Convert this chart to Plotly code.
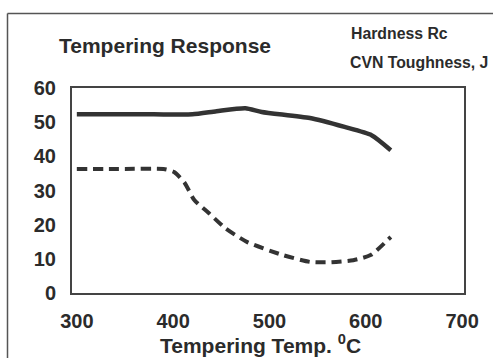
import plotly.graph_objects as go

# Data
hard_temp = [300, 340, 380, 420, 445, 475, 492, 542, 578, 606, 626]
hard_val = [52.3, 52.3, 52.3, 52.3, 53.2, 54.1, 53.0, 51.2, 48.6, 46.2, 41.8]

tough_temp = [300, 350, 390, 401, 412, 422, 437, 454, 477, 514, 542, 563, 587, 605, 626]
tough_val = [36.3, 36.3, 36.3, 35.4, 32.2, 27.2, 23.4, 19.0, 14.9, 11.1, 9.1, 9.0, 9.6, 11.1, 16.4]

x_ticks = [300, 400, 500, 600, 700]
y_ticks = [0, 10, 20, 30, 40, 50, 60]

FONT = "Liberation Sans, Arial, sans-serif"
INK = "#2b2b2b"

fig = go.Figure()
fig.add_trace(go.Scatter(x=hard_temp, y=hard_val, mode="lines", name="Hardness Rc",
                         line=dict(color="#333333", width=4.5, shape="spline", smoothing=0.6)))
fig.add_trace(go.Scatter(x=tough_temp, y=tough_val, mode="lines", name="CVN Toughness, J",
                         line=dict(color="#333333", width=4, dash="10px,6px", shape="spline", smoothing=0.6)))

L, T, W, H = 72, 88, 392, 205
W_FIG, H_FIG = 493, 358

def px_to_paper_x(px):
    return (px - L) / W

def px_to_paper_y(py):
    return (T + H - py) / H

fig.update_layout(
    width=W_FIG, height=H_FIG,
    margin=dict(l=L, r=W_FIG - L - W, t=T, b=H_FIG - T - H, pad=0),
    paper_bgcolor="white", plot_bgcolor="white",
    showlegend=False,
    font=dict(family=FONT, color=INK),
)
fig.update_xaxes(range=[295, 702], tickvals=x_ticks, ticktext=[str(v) for v in x_ticks],
                 showgrid=False, zeroline=False, showline=True, mirror=True,
                 linecolor="#444444", linewidth=2, ticks="",
                 tickfont=dict(family=FONT, size=20, color=INK, weight="bold"),
                 ticklabelstandoff=9)
fig.update_yaxes(range=[0, 60], tickvals=y_ticks, ticktext=[str(v) for v in y_ticks],
                 showgrid=False, zeroline=False, showline=True, mirror=True,
                 linecolor="#444444", linewidth=2, ticks="",
                 tickfont=dict(family=FONT, size=20, color=INK, weight="bold"),
                 ticklabelstandoff=10)

ann = [
    dict(text="<b>Tempering Response</b>", x=px_to_paper_x(57), y=px_to_paper_y(45),
         xanchor="left", yanchor="middle", font=dict(size=21)),
    dict(text="<b>Hardness Rc</b>", x=px_to_paper_x(349), y=px_to_paper_y(33),
         xanchor="left", yanchor="middle", font=dict(size=15.8)),
    dict(text="<b>CVN Toughness, J</b>", x=px_to_paper_x(348), y=px_to_paper_y(62),
         xanchor="left", yanchor="middle", font=dict(size=15.8)),
    dict(text="<b>Tempering Temp. <sup>0</sup>C</b>", x=px_to_paper_x(260), y=px_to_paper_y(344),
         xanchor="center", yanchor="middle", font=dict(size=21)),
]
for a in ann:
    a.update(xref="paper", yref="paper", showarrow=False)
    a["font"].update(family=FONT, color=INK)
fig.update_layout(annotations=ann)

# outer frame (left and top edges visible)
fx = px_to_paper_x(7.5)
fy = px_to_paper_y(13.5)
fig.add_shape(type="line", xref="paper", yref="paper", x0=fx, x1=fx, y0=fy, y1=px_to_paper_y(360),
              line=dict(color="#555555", width=1.5))
fig.add_shape(type="line", xref="paper", yref="paper", x0=fx, x1=px_to_paper_x(500), y0=fy, y1=fy,
              line=dict(color="#555555", width=1.5))

fig.write_html("out.html", config={"displayModeBar": False},
               post_script="document.body.style.margin='0';document.body.style.overflow='hidden';")
